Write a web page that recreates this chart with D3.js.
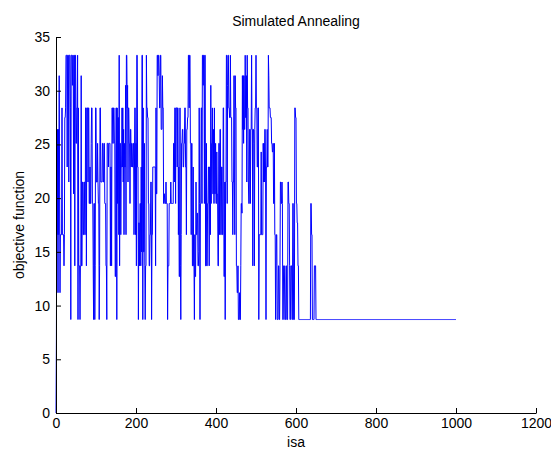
<!DOCTYPE html>
<html>
<head>
<meta charset="utf-8">
<script src="https://cdn.jsdelivr.net/npm/d3@7"></script>
<style>
  body { margin: 0; background: #fff; }
  text { font-family: "Liberation Sans", Arial, sans-serif; fill: #000; }
</style>
</head>
<body>
<div id="chart"></div>
<script>
const chartTitle = 'Simulated Annealing';
const xLabel = 'isa';
const yLabel = 'objective function';
const xTickValues = [0, 200, 400, 600, 800, 1000, 1200];
const yTickValues = [0, 5, 10, 15, 20, 25, 30, 35];
const lastIter = 1000;

// [first isa of the step, objective value held until the next step]
const steps = [
  [0, 0], [1, 6.9], [2, 21.5], [3, 16.6], [4, 26.4], [5, 11.2], [6, 26.4], [7, 16.6], [8, 31.4], [9, 21.5],
  [10, 11.2], [11, 16.6], [15, 28.4], [16, 16.6], [20, 13.7], [21, 16.6], [22, 27.5], [24, 28.4], [25, 33.3],
  [28, 22.9], [29, 33.3], [32, 21.5], [33, 33.3], [36, 28.4], [37, 8.7], [38, 33.3], [41, 30.5], [42, 33.3],
  [44, 20.4], [45, 33.3], [47, 13.7], [48, 33.3], [50, 25.1], [52, 28.4], [54, 33.3], [55, 8.7], [56, 28.4],
  [57, 13.7], [60, 8.7], [61, 13.7], [63, 31.4], [64, 13.7], [66, 21.5], [68, 16.6], [70, 21.5], [72, 16.6],
  [74, 28.4], [76, 13.7], [77, 28.4], [80, 21.5], [81, 28.4], [83, 19.5], [85, 22.9], [86, 19.5], [88, 25.1],
  [89, 28.4], [91, 19.5], [93, 13.7], [94, 8.7], [95, 19.5], [97, 8.7], [98, 13.7], [99, 28.4], [101, 21.5],
  [104, 25.1], [105, 21.5], [106, 19.5], [108, 8.7], [109, 13.7], [110, 28.4], [112, 21.5], [116, 25.1],
  [118, 21.5], [120, 25.1], [122, 19.5], [125, 13.7], [127, 8.7], [128, 25.1], [131, 22.9], [132, 25.1],
  [136, 13.7], [137, 22.9], [139, 13.7], [140, 28.4], [142, 25.1], [144, 28.4], [146, 25.1], [148, 12.7],
  [150, 28.4], [152, 8.7], [153, 28.4], [154, 19.5], [155, 27.5], [157, 16.6], [158, 33.3], [159, 13.7],
  [160, 25.1], [162, 16.6], [163, 22.9], [165, 28.4], [166, 22.9], [167, 28.4], [168, 21.5], [169, 26.4],
  [170, 16.6], [171, 25.1], [172, 22.9], [174, 30.5], [175, 16.6], [176, 33.3], [178, 28.4], [179, 30.5],
  [180, 21.5], [181, 28.4], [183, 25.1], [185, 19.5], [186, 26.4], [188, 22.9], [189, 25.1], [191, 22.9],
  [193, 25.1], [195, 16.6], [196, 21.5], [197, 28.4], [199, 16.6], [200, 25.1], [201, 13.7], [202, 33.3],
  [204, 22.9], [206, 8.7], [207, 17.7], [209, 13.7], [210, 19.5], [212, 13.7], [213, 22.9], [214, 15.0],
  [215, 33.3], [217, 8.7], [218, 28.4], [219, 15.0], [221, 25.1], [222, 13.7], [223, 8.7], [224, 13.7],
  [226, 33.3], [227, 28.4], [229, 27.5], [231, 19.5], [233, 13.7], [235, 16.6], [237, 21.5], [239, 8.7],
  [240, 16.6], [242, 22.9], [249, 13.7], [250, 28.4], [251, 20.4], [253, 33.3], [255, 31.4], [256, 33.3],
  [258, 31.4], [259, 28.4], [261, 33.3], [263, 26.4], [266, 31.4], [267, 28.4], [269, 19.5], [270, 20.4],
  [272, 19.5], [275, 21.5], [276, 19.5], [279, 8.7], [280, 13.7], [283, 19.5], [287, 21.5], [288, 19.5],
  [294, 25.1], [296, 21.5], [297, 28.4], [299, 19.5], [300, 28.4], [303, 22.9], [304, 28.4], [306, 16.6],
  [307, 22.9], [308, 12.7], [310, 28.4], [311, 13.7], [312, 8.7], [313, 16.6], [314, 25.1], [316, 26.4],
  [318, 22.9], [320, 25.1], [322, 28.4], [324, 22.9], [326, 16.6], [327, 26.4], [329, 27.5], [331, 33.3],
  [333, 28.4], [334, 33.3], [336, 25.1], [338, 16.6], [339, 25.1], [341, 13.7], [343, 22.9], [344, 13.7],
  [346, 8.7], [347, 16.6], [348, 12.7], [350, 21.5], [351, 16.6], [353, 18.6], [355, 13.7], [357, 15.0],
  [358, 28.4], [359, 19.5], [360, 8.7], [361, 19.5], [363, 28.4], [365, 19.5], [366, 33.3], [368, 30.5],
  [369, 33.3], [371, 19.5], [372, 33.3], [374, 13.7], [376, 25.1], [377, 13.7], [379, 19.5], [381, 22.9],
  [383, 13.7], [384, 22.9], [386, 16.6], [387, 30.5], [388, 19.5], [389, 25.1], [391, 28.4], [392, 20.4],
  [394, 26.4], [395, 19.5], [396, 28.4], [397, 20.4], [399, 25.1], [400, 19.5], [402, 24.3], [403, 20.4],
  [405, 13.7], [407, 25.1], [409, 16.6], [410, 26.4], [412, 16.6], [414, 22.9], [416, 16.6], [418, 28.4],
  [420, 12.7], [422, 21.5], [423, 8.7], [424, 21.5], [426, 33.3], [428, 19.5], [429, 30.5], [430, 33.3],
  [432, 28.4], [434, 27.5], [436, 33.3], [437, 27.5], [440, 21.5], [442, 16.6], [443, 21.5], [445, 31.4],
  [446, 21.5], [447, 16.6], [448, 31.4], [449, 28.4], [451, 13.7], [453, 11.2], [455, 13.7], [456, 8.7],
  [459, 11.2], [460, 8.7], [462, 13.7], [463, 19.5], [465, 18.6], [466, 31.4], [467, 26.4], [468, 31.4],
  [469, 25.1], [470, 31.4], [471, 26.4], [473, 33.3], [474, 27.5], [476, 31.4], [477, 21.5], [478, 33.3],
  [479, 28.4], [481, 21.5], [482, 19.5], [484, 26.4], [486, 19.5], [487, 26.4], [489, 33.3], [490, 26.4],
  [492, 13.7], [493, 26.4], [495, 25.1], [496, 13.7], [497, 26.4], [498, 28.4], [500, 33.3], [501, 28.4],
  [503, 22.9], [505, 28.4], [507, 8.7], [508, 16.6], [513, 24.3], [514, 16.6], [518, 25.1], [519, 21.5],
  [520, 25.1], [521, 21.5], [522, 26.4], [524, 21.5], [525, 8.7], [526, 22.9], [528, 26.4], [529, 22.9],
  [531, 33.3], [532, 31.4], [533, 28.4], [536, 27.5], [539, 25.1], [541, 24.3], [543, 25.1], [544, 19.5],
  [546, 25.1], [547, 16.6], [549, 8.7], [550, 13.7], [551, 16.6], [553, 8.7], [556, 13.7], [558, 8.7],
  [560, 13.7], [561, 21.5], [563, 19.5], [565, 21.5], [566, 19.5], [567, 8.7], [569, 13.7], [572, 8.7],
  [575, 13.7], [577, 8.7], [580, 21.5], [582, 19.5], [584, 13.7], [585, 8.7], [587, 13.7], [590, 8.7],
  [592, 19.5], [594, 8.7], [597, 28.4], [599, 27.5], [601, 19.5], [603, 17.7], [605, 13.7], [607, 8.7],
  [637, 19.5], [639, 16.6], [641, 8.7], [646, 13.7], [650, 8.7]
];

const width = 551;
const height = 449;
const fontSize = 14;

// expand the steps into one point per isa
const points = [];
steps.forEach(([start, value], i) => {
  const end = i < steps.length - 1 ? steps[i + 1][0] - 1 : lastIter;
  for (let isa = start; isa <= end; isa += 1) {
    points.push({ isa, value });
  }
});

const x = d3.scaleLinear().domain([0, 1200]).range([56, 536]);
const y = d3.scaleLinear().domain([0, 35]).range([413, 37]);

const svg = d3.select('#chart')
  .append('svg')
    .attr('width', width)
    .attr('height', height);

svg.append('rect')
  .attr('width', width)
  .attr('height', height)
  .attr('fill', '#fff');

svg.append('path')
  .datum(points)
  .attr('fill', 'none')
  .attr('stroke', '#0000ff')
  .attr('stroke-width', 1)
  .attr('d', d3.line().x(d => x(d.isa)).y(d => y(d.value)));

const xAxis = svg.append('g')
  .attr('transform', `translate(0, ${y(0)})`)
  .call(d3.axisBottom(x).tickValues(xTickValues).tickFormat(d3.format('d'))
    .tickSizeInner(-5).tickSizeOuter(0).tickPadding(5));

const yAxis = svg.append('g')
  .attr('transform', `translate(${x(0)}, 0)`)
  .call(d3.axisLeft(y).tickValues(yTickValues).tickFormat(d3.format('d'))
    .tickSizeInner(-5).tickSizeOuter(0).tickPadding(6));

[xAxis, yAxis].forEach(axis => {
  axis.attr('font-size', fontSize).attr('font-family', '"Liberation Sans", Arial, sans-serif');
  axis.selectAll('path, line').attr('stroke', '#000');
});

svg.append('text')
  .attr('x', x(600))
  .attr('y', 26)
  .attr('text-anchor', 'middle')
  .attr('font-size', fontSize)
  .text(chartTitle);

svg.append('text')
  .attr('x', x(600))
  .attr('y', 447)
  .attr('text-anchor', 'middle')
  .attr('font-size', fontSize)
  .text(xLabel);

svg.append('text')
  .attr('transform', `translate(24, ${y(17.5)}) rotate(-90)`)
  .attr('text-anchor', 'middle')
  .attr('font-size', fontSize)
  .text(yLabel);
</script>
</body>
</html>
